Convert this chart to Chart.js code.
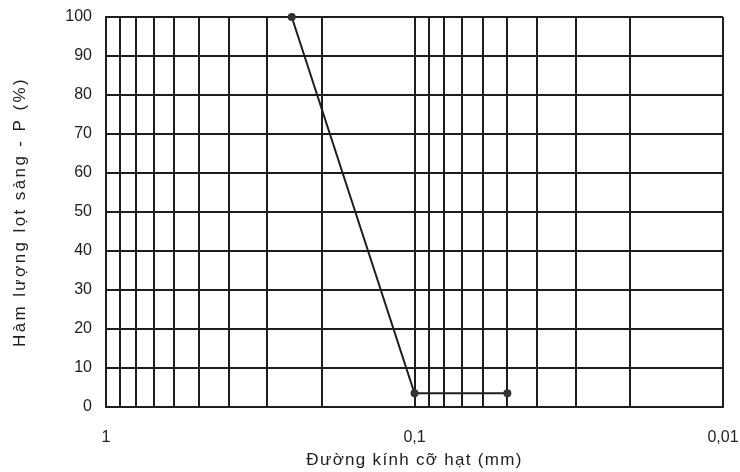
<!DOCTYPE html>
<html>
<head>
<meta charset="utf-8">
<script src="https://cdn.jsdelivr.net/npm/chart.js@4/dist/chart.umd.min.js"></script>
<style>
  html, body { margin: 0; padding: 0; background: #fff; }
  #wrap { width: 740px; height: 472px; }
</style>
</head>
<body>
<div id="wrap"><canvas id="gradingChart"></canvas></div>
<script>
// particle size (mm) and percent passing
const sizes = [0.25, 0.1, 0.05];
const passing = [100, 3.5, 3.5];

// grid lines of the log axis and which of them get a label
const gridValues = [0.01, 0.02, 0.03, 0.04, 0.05, 0.06, 0.07, 0.08, 0.09,
                    0.1, 0.2, 0.3, 0.4, 0.5, 0.6, 0.7, 0.8, 0.9, 1];
const labelledValues = [1, 0.1, 0.01];
const yTicks = [0, 10, 20, 30, 40, 50, 60, 70, 80, 90, 100];

const xTitle = 'Đường kính cỡ hạt (mm)';
const yTitle = 'Hàm lượng lọt sàng - P (%)';

const ink = '#1e1e1e';
Chart.defaults.font.family = '"Liberation Sans", Arial, sans-serif';
Chart.defaults.color = ink;

// the scanned titles are set a little wider than plain text
const spacedTitles = {
    id: 'spacedTitles',
    beforeDraw(chart) {
        [['x', '1.3px'], ['y', '2.4px']].forEach(([id, gap]) => {
            const scale = chart.scales[id];
            if (scale._spaced) return;
            const orig = scale.drawTitle;
            scale.drawTitle = function() {
                this.ctx.save();
                this.ctx.letterSpacing = gap;
                orig.call(this);
                this.ctx.restore();
            };
            scale._spaced = true;
        });
    }
};

const ctx = document.getElementById('gradingChart').getContext('2d');

new Chart(ctx, {
    type: 'scatter',
    data: {
        datasets: [{
            data: sizes.map((s, i) => ({ x: s, y: passing[i] })),
            showLine: true,
            borderColor: ink,
            borderWidth: 2,
            backgroundColor: '#333',
            pointRadius: 4,
            pointBorderWidth: 0,
            tension: 0,
            clip: false
        }]
    },
    plugins: [spacedTitles],
    options: {
        responsive: true,
        maintainAspectRatio: false,
        animation: false,
        layout: { padding: { left: 0, right: 17, top: 17, bottom: 0 } },
        plugins: {
            legend: { display: false },
            tooltip: { enabled: false }
        },
        scales: {
            x: {
                type: 'logarithmic',
                min: 0.01,
                max: 1,
                reverse: true,
                afterBuildTicks: function(scale) {
                    scale.ticks = gridValues.map(v => ({ value: v }));
                },
                afterFit: function(scale) { scale.height = 65; },
                grid: { color: ink, lineWidth: 2, drawTicks: false },
                border: { color: ink, width: 2 },
                ticks: {
                    autoSkip: false,
                    maxRotation: 0,
                    padding: 21,
                    font: { size: 16 },
                    callback: function(value) {
                        const hit = labelledValues.find(l => Math.abs(l - value) < 1e-9);
                        return hit === undefined ? '' : String(hit).replace('.', ',');
                    }
                },
                title: {
                    display: true,
                    text: xTitle,
                    font: { size: 17 },
                    padding: { top: 0, bottom: 1 }
                }
            },
            y: {
                min: 0,
                max: 100,
                afterBuildTicks: function(scale) {
                    scale.ticks = yTicks.map(v => ({ value: v }));
                },
                afterFit: function(scale) {
                    scale.width = 106;
                    scale.paddingTop = 0;
                    scale.paddingBottom = 0;
                },
                grid: { color: ink, lineWidth: 2, drawTicks: false },
                border: { color: ink, width: 2 },
                ticks: { padding: 14, font: { size: 16 } },
                title: {
                    display: true,
                    text: yTitle,
                    font: { size: 17 },
                    padding: { top: 10, bottom: 4 }
                }
            }
        }
    }
});
</script>
</body>
</html>
